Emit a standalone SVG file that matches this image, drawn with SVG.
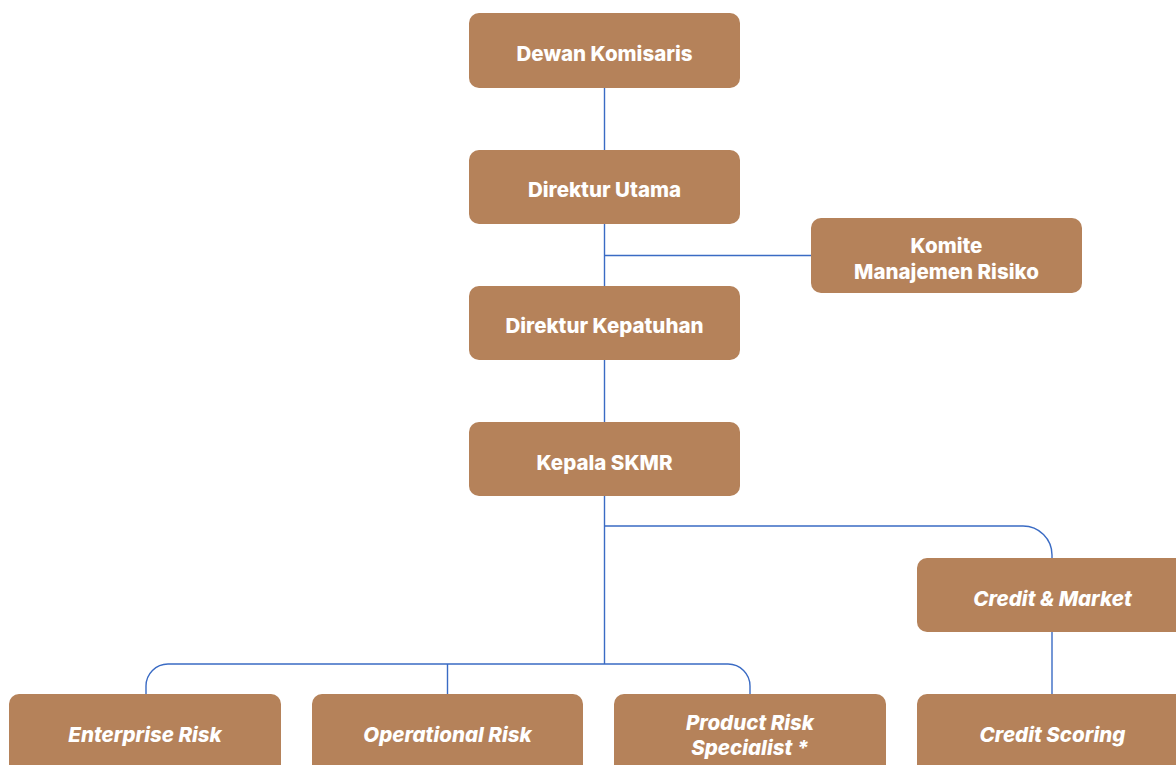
<svg xmlns="http://www.w3.org/2000/svg" width="1176" height="765" viewBox="0 0 1176 765">
<style>
.box{fill:#b5825a;}
.t{fill:#ffffff;font-family:Inter,"Liberation Sans",sans-serif;font-weight:800;font-size:20.5px;text-anchor:middle;dominant-baseline:central;}
.i{font-style:italic;}
.c{fill:none;stroke:#3a6bc4;stroke-width:1.4;}
</style>
<rect width="1176" height="765" fill="#ffffff"/>
<g id="connectors">
<path class="c" d="M604.5 88 V664"/>
<path class="c" d="M604.5 255.5 H811"/>
<path class="c" d="M604.5 526 H1023 A29 29 0 0 1 1052 555 V558"/>
<path class="c" d="M1052 632 V694"/>
<path class="c" d="M146 694 V686 A22 22 0 0 1 168 664 H728 A22 22 0 0 1 750 686 V694"/>
<path class="c" d="M447.5 664 V694"/>
</g>
<g id="dewan"><rect class="box" x="469" y="13" width="271" height="75" rx="10"/><text class="t" x="604.5" y="53">Dewan Komisaris</text></g>
<g id="dirut"><rect class="box" x="469" y="150" width="271" height="74" rx="10"/><text class="t" x="604.5" y="189">Direktur Utama</text></g>
<g id="komite"><rect class="box" x="811" y="218" width="271" height="75" rx="10"/><text class="t" x="946.5" y="245">Komite</text><text class="t" x="946.5" y="271">Manajemen Risiko</text></g>
<g id="dirkep"><rect class="box" x="469" y="286" width="271" height="74" rx="10"/><text class="t" x="604.5" y="325">Direktur Kepatuhan</text></g>
<g id="skmr"><rect class="box" x="469" y="422" width="271" height="74" rx="10"/><text class="t" x="604.5" y="462">Kepala SKMR</text></g>
<g id="credit-market"><rect class="box" x="917" y="558" width="271" height="74" rx="10"/><text class="t i" x="1052.5" y="598">Credit &amp; Market</text></g>
<g id="enterprise"><rect class="box" x="9" y="694" width="272" height="90" rx="10"/><text class="t i" x="145" y="734">Enterprise Risk</text></g>
<g id="operational"><rect class="box" x="312" y="694" width="271" height="90" rx="10"/><text class="t i" x="447.5" y="734">Operational Risk</text></g>
<g id="product"><rect class="box" x="614" y="694" width="272" height="90" rx="10"/><text class="t i" x="750" y="722">Product Risk</text><text class="t i" x="750" y="747">Specialist *</text></g>
<g id="scoring"><rect class="box" x="917" y="694" width="271" height="90" rx="10"/><text class="t i" x="1052.5" y="734">Credit Scoring</text></g>
</svg>
